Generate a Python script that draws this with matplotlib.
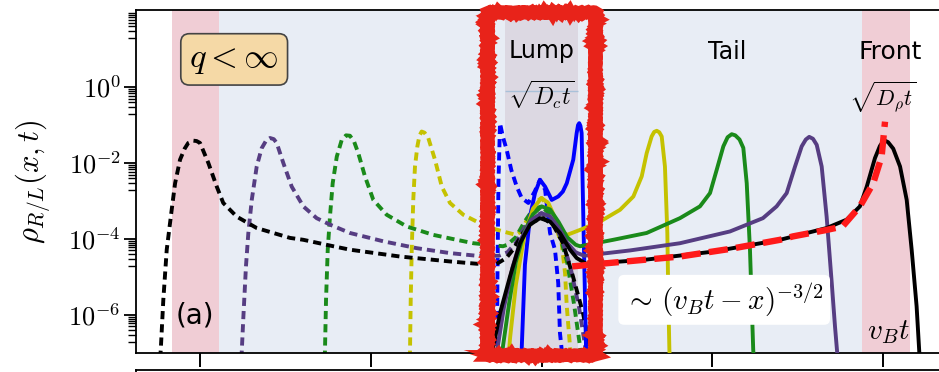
import numpy as np
import matplotlib
matplotlib.use("Agg")
import matplotlib.pyplot as plt
from matplotlib.patches import Rectangle
from matplotlib.ticker import FuncFormatter

plt.rcParams['mathtext.fontset'] = 'cm'
plt.rcParams['font.family'] = 'DejaVu Sans'

# x in units of the tick spacing (v_B t of the last curve at x=2), y = log10(rho)
# dashed = left movers, solid = right movers

blue_dash_x = [-0.262, -0.258, -0.252, -0.243, -0.226, -0.204, -0.177, -0.145, -0.116, -0.077,
               -0.040, -0.009, 0.021, 0.050, 0.079, 0.098, 0.108, 0.118, 0.122]
blue_dash_y = [-7.5, -5.0, -2.5, -0.95, -1.31, -1.65, -2.18, -2.62, -2.92, -3.05,
               -2.75, -2.44, -2.70, -3.84, -4.28, -5.16, -6.47, -6.90, -7.5]

yel_dash_x = [-0.773, -0.770, -0.766, -0.760, -0.751, -0.741, -0.727, -0.715, -0.702, -0.685,
              -0.663, -0.624, -0.584, -0.536, -0.458, -0.380, -0.302, -0.225, -0.150, -0.120,
              -0.080, -0.040, 0.000, 0.050, 0.100, 0.118, 0.138, 0.148, 0.167, 0.175]
yel_dash_y = [-7.5, -6.9, -5.60, -4.28, -2.97, -2.09, -1.56, -1.28, -1.17, -1.20,
              -1.34, -1.91, -2.62, -3.05, -3.36, -3.54, -3.70, -3.80, -3.89, -3.80,
              -3.45, -3.05, -2.92, -3.2, -3.9, -4.1, -4.9, -5.77, -6.83, -7.5]

grn_dash_x = [-1.272, -1.268, -1.262, -1.252, -1.239, -1.223, -1.199, -1.170, -1.145, -1.122,
              -1.098, -1.073, -1.034, -0.985, -0.907, -0.789, -0.634, -0.497, -0.399, -0.225,
              -0.200, -0.150, -0.100, -0.050, 0.000, 0.050, 0.100, 0.150, 0.190, 0.225,
              0.240]
grn_dash_y = [-7.5, -6.9, -5.60, -4.28, -3.41, -2.53, -1.83, -1.39, -1.27, -1.28,
              -1.43, -1.74, -2.35, -2.97, -3.36, -3.67, -3.89, -4.02, -4.11, -4.19,
              -4.15, -3.95, -3.55, -3.22, -3.14, -3.35, -3.8, -4.6, -5.7, -6.8,
              -7.5]

pur_dash_x = [-1.760, -1.756, -1.746, -1.731, -1.717, -1.697, -1.668, -1.639, -1.612, -1.590,
              -1.568, -1.551, -1.512, -1.463, -1.395, -1.317, -1.239, -1.122, -0.926, -0.731,
              -0.536, -0.380, -0.250, -0.200, -0.150, -0.100, -0.050, 0.000, 0.060, 0.120,
              0.170, 0.220, 0.255, 0.270]
pur_dash_y = [-7.5, -7.0, -6.04, -4.72, -3.84, -2.97, -2.09, -1.61, -1.40, -1.34,
              -1.37, -1.47, -2.00, -2.62, -3.14, -3.45, -3.62, -3.84, -4.06, -4.24,
              -4.37, -4.44, -4.44, -4.35, -4.10, -3.70, -3.40, -3.32, -3.50, -4.00,
              -4.75, -5.80, -6.80, -7.5]

blk_dash_x = [-2.240, -2.230, -2.215, -2.195, -2.166, -2.146, -2.117, -2.090, -2.069, -2.039,
              -2.020, -2.000, -1.951, -1.902, -1.864, -1.785, -1.668, -1.473, -1.395, -1.219,
              -1.122, -0.829, -0.536, -0.380, -0.265, -0.206, -0.167, -0.108, -0.050, 0.009,
              0.067, 0.126, 0.184, 0.243, 0.282, 0.296]
blk_dash_y = [-7.5, -6.92, -5.60, -4.28, -3.23, -2.53, -1.91, -1.62, -1.47, -1.41,
              -1.42, -1.47, -2.00, -2.62, -3.05, -3.41, -3.71, -3.97, -4.02, -4.19,
              -4.28, -4.46, -4.59, -4.65, -4.66, -4.50, -4.28, -3.84, -3.54, -3.45,
              -3.62, -4.11, -4.98, -5.95, -6.83, -7.5]

blue_x = [-0.125, -0.116, -0.097, -0.067, -0.038, -0.009, 0.021, 0.060, 0.098, 0.125,
          0.148, 0.186, 0.206, 0.214, 0.221, 0.228, 0.235, 0.245, 0.255, 0.261, 0.265]
blue_y = [-7.5, -6.9, -4.67, -3.40, -2.79, -2.44, -2.62, -2.97, -2.88, -2.75,
          -2.53, -1.91, -1.21, -1.00, -0.95, -1.02, -1.21, -3.45, -5.60, -6.90, -7.5]

yel_x = [-0.200, -0.184, -0.150, -0.100, -0.050, 0.000, 0.040, 0.080, 0.120, 0.150,
         0.225, 0.343, 0.460, 0.538, 0.587, 0.616, 0.645, 0.660, 0.675, 0.690,
         0.704, 0.723, 0.737, 0.743, 0.749, 0.755]
yel_y = [-7.5, -6.6, -5.2, -3.9, -3.2, -2.92, -3.05, -3.45, -3.80, -3.89,
         -3.76, -3.54, -3.23, -2.88, -2.35, -1.74, -1.30, -1.18, -1.15, -1.19,
         -1.30, -2.09, -3.84, -5.60, -6.91, -7.5]

grn_x = [-0.240, -0.225, -0.190, -0.150, -0.100, -0.050, 0.000, 0.050, 0.100, 0.150,
         0.200, 0.225, 0.420, 0.616, 0.811, 0.928, 0.987, 1.026, 1.065, 1.090,
         1.114, 1.135, 1.160, 1.182, 1.202, 1.221, 1.240, 1.248]
grn_y = [-7.5, -6.8, -5.7, -4.6, -3.8, -3.35, -3.14, -3.22, -3.55, -3.95,
         -4.15, -4.19, -4.02, -3.84, -3.45, -3.14, -2.79, -2.18, -1.56, -1.32,
         -1.24, -1.27, -1.38, -1.60, -2.53, -4.28, -6.91, -7.5]

pur_x = [-0.270, -0.255, -0.220, -0.170, -0.120, -0.060, 0.000, 0.050, 0.100, 0.150,
         0.200, 0.250, 0.518, 0.811, 1.104, 1.297, 1.377, 1.436, 1.485, 1.524,
         1.548, 1.568, 1.590, 1.612, 1.641, 1.670, 1.700, 1.719, 1.732, 1.742]
pur_y = [-7.5, -6.8, -5.8, -4.75, -4.0, -3.5, -3.32, -3.40, -3.70, -4.10,
         -4.35, -4.44, -4.30, -4.11, -3.80, -3.45, -3.14, -2.79, -2.09, -1.56,
         -1.38, -1.31, -1.36, -1.52, -2.09, -3.41, -5.16, -6.30, -7.0, -7.5]

blk_x = [-0.296, -0.282, -0.243, -0.184, -0.126, -0.067, -0.009, 0.050, 0.108, 0.167,
         0.206, 0.265, 0.616, 1.006, 1.397, 1.670, 1.787, 1.865, 1.905, 1.953,
         1.982, 2.000, 2.012, 2.030, 2.060, 2.100, 2.139, 2.168, 2.197, 2.213, 2.223]
blk_y = [-7.5, -6.83, -5.95, -4.98, -4.11, -3.62, -3.45, -3.54, -3.84, -4.28,
         -4.50, -4.66, -4.54, -4.33, -4.02, -3.71, -3.49, -3.14, -2.62, -1.87,
         -1.55, -1.43, -1.41, -1.45, -1.62, -2.09, -2.97, -4.28, -5.77, -7.0, -7.5]

# asymptote ~ (v_B t - x)^(-3/2)
red_x = [0.180, 0.811, 1.104, 1.397, 1.473, 1.670, 1.763, 1.865, 1.943, 1.992, 2.012]
red_y = [-4.72, -4.46, -4.26, -4.02, -3.93, -3.76, -3.67, -3.14, -2.53, -1.83, -0.91]

# shaded regions (x units)
front_left = (-2.164, -1.886)
front_right = (1.876, 2.158)
tail_span = (-1.886, 1.876)
lump_span = (-0.214, 0.214)

purple = '#563d82'
green = '#1a8a1a'
yellow = '#c5c200'

fig = plt.figure(figsize=(9.39, 3.72), dpi=100)
ax = fig.add_axes([136/939, 19/372, 811/939, 343/372])

ax.axvspan(*front_left, color='#f0cdd5', lw=0, zorder=0)
ax.axvspan(*front_right, color='#f0cdd5', lw=0, zorder=0)
ax.axvspan(*tail_span, color='#e8edf5', lw=0, zorder=0)
ax.axvspan(*lump_span, color='#dcd8e2', lw=0, zorder=0)
ax.hlines(10**-0.09, *lump_span, color='#a9c1d9', lw=1, zorder=1)

dash = (0, (2.1, 1.3))
for xs, ys, c in [(blue_dash_x, blue_dash_y, 'blue'), (yel_dash_x, yel_dash_y, yellow),
                  (grn_dash_x, grn_dash_y, green), (pur_dash_x, pur_dash_y, purple),
                  (blk_dash_x, blk_dash_y, 'black')]:
    ax.plot(xs, 10.0**np.array(ys), color=c, lw=2.8, ls=dash, zorder=2)

for xs, ys, c in [(blue_x, blue_y, 'blue'), (yel_x, yel_y, yellow),
                  (grn_x, grn_y, green), (pur_x, pur_y, purple),
                  (blk_x, blk_y, 'black')]:
    ax.plot(xs, 10.0**np.array(ys), color=c, lw=2.8, zorder=3, solid_joinstyle='round')

ax.plot(red_x, 10.0**np.array(red_y), color='#ff1a1a', lw=4.6, ls=(0, (3.0, 1.3)), zorder=4)

ax.set_yscale('log')
ax.set_xlim(-2.375, 2.375)
ax.set_ylim(1e-7, 10**2.03)
ax.set_xticks([-2, -1, 0, 1, 2])
ax.tick_params(axis='x', direction='out', length=10, width=1.4, labelbottom=False)
ax.set_yticks([1e-6, 1e-4, 1e-2, 1e0])
ax.yaxis.set_major_formatter(FuncFormatter(lambda v, p: r'$10^{%d}$' % round(np.log10(v))))
minor = [k * 10.0**d for d in (-7, -5, -3, -1, 1) for k in range(2, 10)]
ax.set_yticks(minor, minor=True)
ax.tick_params(axis='y', which='major', direction='out', length=9, width=1.3,
               labelsize=19, pad=2)
ax.tick_params(axis='y', which='minor', direction='out', length=5.5, width=1.0,
               labelleft=False)
for s in ax.spines.values():
    s.set_linewidth(1.3)
ax.set_ylabel(r'$\rho_{R/L}(x,t)$', fontsize=22, labelpad=11)

ax.text(-1.80, 10**0.73, r'$q<\infty$', fontsize=25, ha='center', va='center',
        bbox=dict(boxstyle='round,pad=0.25', fc='#f5d9a6', ec='#444444', lw=1.2))
ax.text(0.0, 10**0.95, 'Lump', fontsize=17, ha='center', va='center')
ax.text(0.0, 10**-0.20, r'$\sqrt{D_c t}$', fontsize=17, ha='center', va='center')
ax.text(1.086, 10**0.93, 'Tail', fontsize=17, ha='center', va='center')
ax.text(2.041, 10**0.93, 'Front', fontsize=18, ha='center', va='center')
ax.text(2.0, 10**-0.28, r'$\sqrt{D_\rho t}$', fontsize=16, ha='center', va='center')
ax.text(-2.03, 10**-6.0, '(a)', fontsize=20, ha='center', va='center')
ax.text(2.03, 10**-6.44, r'$v_B t$', fontsize=21, ha='center', va='center')
ax.text(1.07, 10**-5.6, r'$\sim\, (v_B t - x)^{-3/2}$', fontsize=21, ha='center', va='center',
        bbox=dict(boxstyle='round,pad=0.2', fc='white', ec='none'))

# lower panel, only its top edge shows
ax2 = fig.add_axes([136/939, -0.5, 811/939, 0.5 + 2/372])
ax2.set_xticks([])
ax2.set_yticks([])
for s in ax2.spines.values():
    s.set_linewidth(1.3)

# hand drawn red frame around the lump, a few crayon strokes
for dx, dy, lw in [(0, 0, 9), (-3, 2, 5), (3, -2, 5)]:
    frame = Rectangle(((487 + dx)/939, (17 + dy)/372), (108 - 2*dx)/939, (343 - 2*dy)/372,
                      transform=fig.transFigure, fill=False, ec='#e8231a', lw=lw, zorder=10)
    frame.set_sketch_params(scale=1.0, length=6, randomness=3)
    fig.add_artist(frame)

fig.savefig('out.png', dpi=100)
